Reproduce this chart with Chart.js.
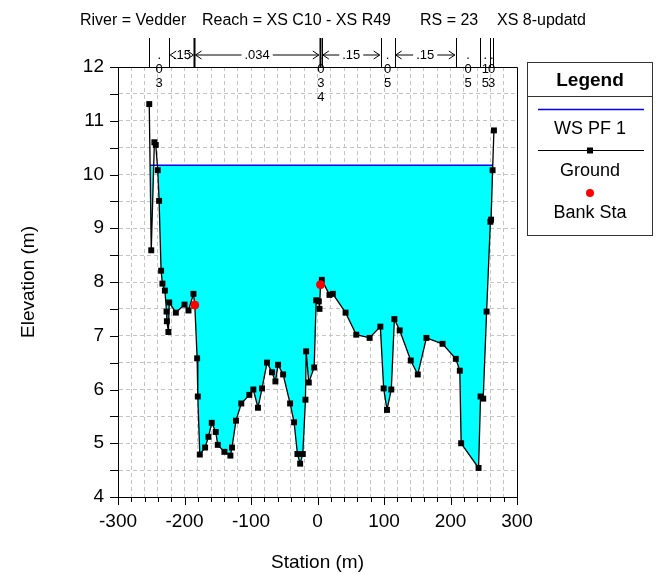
<!DOCTYPE html>
<html>
<head>
<meta charset="utf-8">
<script src="https://cdn.jsdelivr.net/npm/chart.js@4.4.0/dist/chart.umd.min.js"></script>
<style>
  html, body { margin: 0; padding: 0; background: #fff; }
</style>
</head>
<body>
<canvas id="xs" width="658" height="574"></canvas>
<script>
// ground profile (station m, elevation m)
var groundX = [-253, -250, -245.3, -243.2, -240.2, -238.2, -235.2, -233.2, -229.5, -227, -226.5, -224.2, -223, -213, -200, -194, -186.5, -184.5,
  -181, -180, -177, -169, -164, -159, -153, -150, -140, -131, -128.6, -122.6, -114.6, -102.5, -96.5, -89.5, -83.4, -75.9, -68.4, -63.3,
  -59.3, -51.7, -41.2, -35.2, -30.2, -26.1, -22.1, -18.1, -17.1, -13.1, -5, -2, 2, 3, 4.5, 6.5, 18, 23, 42.2, 58.3, 78.4, 94.5, 99.5,
  104.5, 111, 115.6, 123.6, 140.2, 150.8, 163.8, 188, 208, 214, 216, 242.2, 245.2, 249.2, 254.3, 260, 261, 263.3, 265.3];
var groundY = [11.31, 8.59, 10.6, 10.55, 10.08, 9.51, 8.21, 7.97, 7.84, 7.45, 7.27, 7.07, 7.62, 7.43, 7.58, 7.47, 7.78, 7.57,
  6.58, 5.87, 4.79, 4.92, 5.12, 5.38, 5.21, 4.97, 4.84, 4.77, 4.92, 5.42, 5.74, 5.90, 6.0, 5.66, 6.02, 6.50, 6.32, 6.15,
  6.46, 6.28, 5.74, 5.39, 4.80, 4.62, 4.80, 5.81, 6.71, 6.13, 6.41, 7.66, 7.64, 7.50, 7.95, 8.04, 7.76, 7.78, 7.43, 7.02, 6.96, 7.17, 6.02,
  5.62, 6.0, 7.31, 7.10, 6.54, 6.28, 6.96, 6.85, 6.57, 6.35, 5.0, 4.54, 5.87, 5.83, 7.45, 9.12, 9.16, 10.08, 10.82];

// water surface PF 1
var wsX = [-251.7, 263.5];
var wsY = [10.17, 10.17];

// bank stations
var bankX = [-184.5, 4.5];
var bankY = [7.57, 7.95];

// Manning's n breaks and values
var nBreaks = [-253, -223, -185, 3.5, 6.5, 95, 116, 208, 245, 260, 264];
var nValues = ['.03', '.15', '.034', '.034', '.15', '.05', '.15', '.05', '.15', '.03'];
var nVertical = [true, false, false, true, false, true, false, true, true, true];

var xLabels = [-300, -200, -100, 0, 100, 200, 300];
var yLabels = [4, 5, 6, 7, 8, 9, 10, 11, 12];

var titleParts = ['River = Vedder', 'Reach = XS C10 - XS R49', 'RS = 23', 'XS 8-updatd'];
var titleLeft = [80, 202, 420, 497];
var FONT = "'Liberation Sans', Arial, sans-serif";

function pts(xs, ys) {
  return xs.map(function (v, i) { return { x: v, y: ys[i] }; });
}

var decor = {
  id: 'decor',
  afterDraw: function (chart) {
    var ctx = chart.ctx, a = chart.chartArea;
    var xs = chart.scales.x, ys = chart.scales.y;
    ctx.save();
    ctx.strokeStyle = '#000';
    ctx.lineWidth = 1;

    // frame top + right
    ctx.beginPath();
    ctx.moveTo(a.left, a.top + 0.5);
    ctx.lineTo(Math.round(a.right) + 0.5, a.top + 0.5);
    ctx.lineTo(Math.round(a.right) + 0.5, a.bottom);
    ctx.stroke();

    // tick marks
    ctx.beginPath();
    xs.ticks.forEach(function (t) {
      var px = Math.round(xs.getPixelForValue(t.value)) + 0.5;
      var len = xLabels.indexOf(t.value) >= 0 ? 8 : 5;
      ctx.moveTo(px, a.bottom);
      ctx.lineTo(px, a.bottom + len);
    });
    ys.ticks.forEach(function (t) {
      var py = Math.round(ys.getPixelForValue(t.value)) + 0.5;
      ctx.moveTo(a.left, py);
      ctx.lineTo(a.left - 8, py);
    });
    ctx.stroke();

    // title
    ctx.fillStyle = '#000';
    ctx.font = '16px ' + FONT;
    ctx.textAlign = 'left';
    ctx.textBaseline = 'alphabetic';
    titleParts.forEach(function (s, i) { ctx.fillText(s, titleLeft[i], 25); });

    // Manning's n
    ctx.font = '13px ' + FONT;
    ctx.textBaseline = 'middle';
    ctx.textAlign = 'center';
    nBreaks.forEach(function (b) {
      var px = Math.round(xs.getPixelForValue(b)) + 0.5;
      var isBank = bankX.some(function (k) { return Math.abs(k - b) < 2; });
      ctx.lineWidth = isBank ? 2 : 1;
      ctx.beginPath();
      ctx.moveTo(px, 38);
      ctx.lineTo(px, a.top);
      ctx.stroke();
    });
    ctx.lineWidth = 1;
    var yy = 55;
    nValues.forEach(function (v, i) {
      var x1 = xs.getPixelForValue(nBreaks[i]);
      var x2 = xs.getPixelForValue(nBreaks[i + 1]);
      var cx = (x1 + x2) / 2;
      if (nVertical[i]) {
        for (var k = 0; k < v.length; k++) {
          ctx.fillText(v[k], cx, yy + 14 * k);
        }
      } else {
        var w = ctx.measureText(v).width;
        var gap = w / 2 + 3;
        ctx.fillText(v, cx, yy);
        ctx.beginPath();
        x1 += 1; x2 -= 1;
        if (cx - gap > x1) { ctx.moveTo(x1, yy); ctx.lineTo(cx - gap, yy); }
        if (cx + gap < x2) { ctx.moveTo(cx + gap, yy); ctx.lineTo(x2, yy); }
        ctx.moveTo(x1 + 6, yy - 4); ctx.lineTo(x1, yy); ctx.lineTo(x1 + 6, yy + 4);
        ctx.moveTo(x2 - 6, yy - 4); ctx.lineTo(x2, yy); ctx.lineTo(x2 - 6, yy + 4);
        ctx.stroke();
      }
    });

    // legend box
    var L = 527.5, R = 652.5, T = 62.5, B = 235.5, cxL = (L + R) / 2;
    ctx.strokeStyle = '#333';
    ctx.strokeRect(L, T, R - L, B - T);
    ctx.beginPath();
    ctx.moveTo(L, 96.5); ctx.lineTo(R, 96.5);
    ctx.stroke();
    ctx.font = 'bold 19px ' + FONT;
    ctx.fillStyle = '#000';
    ctx.fillText('Legend', cxL, 81);
    var ds = chart.data.datasets;
    ctx.font = '18px ' + FONT;
    // WS
    ctx.strokeStyle = ds[2].borderColor;
    ctx.lineWidth = 1.5;
    ctx.beginPath(); ctx.moveTo(538, 109.5); ctx.lineTo(644, 109.5); ctx.stroke();
    ctx.fillText(ds[2].label, cxL, 129);
    // Ground
    ctx.strokeStyle = '#000';
    ctx.lineWidth = 1.2;
    ctx.beginPath(); ctx.moveTo(538, 150.5); ctx.lineTo(644, 150.5); ctx.stroke();
    ctx.fillRect(cxL - 3, 147.5, 6, 6);
    ctx.fillText(ds[1].label, cxL, 171);
    // Bank
    ctx.fillStyle = ds[0].backgroundColor;
    ctx.beginPath(); ctx.arc(cxL, 193, 4, 0, Math.PI * 2); ctx.fill();
    ctx.fillStyle = '#000';
    ctx.fillText(ds[0].label, cxL, 213);

    ctx.restore();
  }
};

new Chart(document.getElementById('xs').getContext('2d'), {
  type: 'scatter',
  data: {
    datasets: [{
      label: 'Bank Sta',
      data: pts(bankX, bankY),
      backgroundColor: '#ff0000',
      borderColor: '#ff0000',
      pointStyle: 'circle',
      pointRadius: 4,
      showLine: false,
      order: 0
    }, {
      label: 'Ground',
      data: pts(groundX, groundY),
      showLine: true,
      borderColor: '#000',
      borderWidth: 1.3,
      pointStyle: 'rect',
      pointRadius: 4.2,
      pointBackgroundColor: '#000',
      pointBorderColor: '#000',
      pointBorderWidth: 0,
      fill: { target: { value: wsY[0] }, above: 'rgba(0,0,0,0)', below: '#00ffff' },
      order: 1
    }, {
      label: 'WS PF 1',
      data: pts(wsX, wsY),
      showLine: true,
      borderColor: '#0000ff',
      borderWidth: 1.5,
      pointRadius: 0,
      order: 2
    }]
  },
  options: {
    responsive: false,
    animation: false,
    layout: { padding: { top: 67, right: 141, left: 0, bottom: 0 } },
    plugins: {
      legend: { display: false },
      tooltip: { enabled: false },
      filler: { drawTime: 'beforeDatasetsDraw' }
    },
    scales: {
      x: {
        type: 'linear',
        min: -300, max: 300,
        afterFit: function (s) { s.height = 77; },
        ticks: {
          stepSize: 20, maxTicksLimit: 100, autoSkip: false, maxRotation: 0,
          padding: 13, color: '#000', font: { family: FONT, size: 19 },
          callback: function (v) { return xLabels.indexOf(v) >= 0 ? String(v) : ''; }
        },
        grid: { color: '#c4c4c4', drawTicks: false, lineWidth: 1 },
        border: { color: '#000', width: 1, dash: [4, 3] },
        title: { display: true, text: 'Station (m)', color: '#000', font: { family: FONT, size: 19 }, padding: { top: 0, bottom: 0 } }
      },
      y: {
        type: 'linear',
        min: 4, max: 12,
        afterFit: function (s) { s.width = 118; },
        ticks: {
          stepSize: 0.5, maxTicksLimit: 100, autoSkip: false,
          padding: 14, color: '#000', font: { family: FONT, size: 19 },
          callback: function (v) { return yLabels.indexOf(v) >= 0 ? String(v) : ''; }
        },
        grid: { color: '#c4c4c4', drawTicks: false, lineWidth: 1 },
        border: { color: '#000', width: 1, dash: [4, 3] },
        title: { display: true, text: 'Elevation (m)', color: '#000', font: { family: FONT, size: 19 }, padding: { top: 17, bottom: 0 } }
      }
    }
  },
  plugins: [decor]
});
</script>
</body>
</html>
